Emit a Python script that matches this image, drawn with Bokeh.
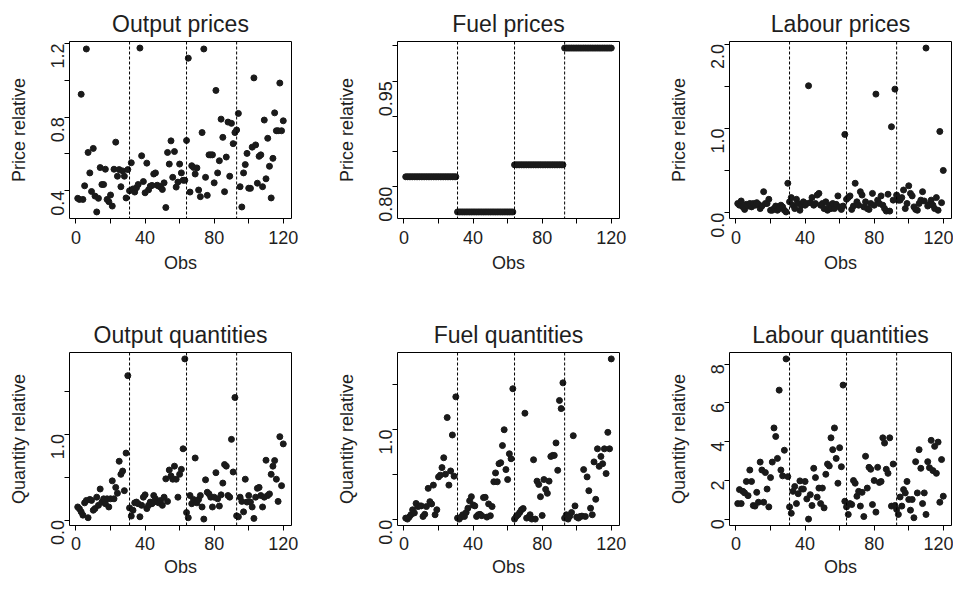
import math
from bokeh.plotting import figure
from bokeh.layouts import gridplot
from bokeh.models import Range1d, FixedTicker, Span
from bokeh.embed import file_html
from bokeh.resources import INLINE

# ---------------- data ----------------
obs = list(range(1, 121))
year_breaks = [31, 64, 93]

x_ticks = [0, 20, 40, 60, 80, 100, 120]
x_tick_labels = ["0", "", "40", "", "80", "", "120"]

output_prices = [
    0.359, 0.353, 0.924, 0.353, 0.427, 1.170, 0.608, 0.497, 0.396, 0.630,
    0.371, 0.285, 0.359, 0.526, 0.434, 0.434, 0.517, 0.353, 0.341, 0.377,
    0.317, 0.517, 0.664, 0.479, 0.515, 0.422, 0.508, 0.479, 0.361, 0.515,
    0.400, 0.552, 0.410, 0.393, 0.416, 0.434, 1.175, 0.590, 0.450, 0.389,
    0.550, 0.405, 0.425, 0.429, 0.491, 0.497, 0.430, 0.425, 0.420, 0.407,
    0.443, 0.309, 0.608, 0.545, 0.671, 0.473, 0.613, 0.420, 0.447, 0.545,
    0.497, 0.457, 0.457, 0.673, 1.120, 0.393, 0.536, 0.527, 0.491, 0.524,
    0.404, 0.368, 0.716, 1.170, 0.473, 0.375, 0.595, 0.595, 0.595, 0.443,
    0.945, 0.497, 0.563, 0.789, 0.690, 0.395, 0.583, 0.773, 0.479, 0.766,
    0.656, 0.716, 0.730, 0.820, 0.422, 0.312, 0.497, 0.542, 0.603, 0.414,
    0.413, 0.637, 1.013, 0.649, 0.441, 0.587, 0.595, 0.422, 0.784, 0.465,
    0.685, 0.533, 0.361, 0.576, 0.823, 0.726, 0.726, 0.985, 0.726, 0.780,
]
output_price_ticks = [0.4, 0.6, 0.8, 1.0, 1.2]
output_price_labels = ["0.4", "", "0.8", "", "1.2"]

fuel_prices = [
    0.814, 0.814, 0.814, 0.814, 0.814, 0.814, 0.814, 0.814, 0.814, 0.814,
    0.814, 0.814, 0.814, 0.814, 0.814, 0.814, 0.814, 0.814, 0.814, 0.814,
    0.814, 0.814, 0.814, 0.814, 0.814, 0.814, 0.814, 0.814, 0.814, 0.814,
    0.764, 0.764, 0.764, 0.764, 0.764, 0.764, 0.764, 0.764, 0.764, 0.764,
    0.764, 0.764, 0.764, 0.764, 0.764, 0.764, 0.764, 0.764, 0.764, 0.764,
    0.764, 0.764, 0.764, 0.764, 0.764, 0.764, 0.764, 0.764, 0.764, 0.764,
    0.764, 0.764, 0.764, 0.831, 0.831, 0.831, 0.831, 0.831, 0.831, 0.831,
    0.831, 0.831, 0.831, 0.831, 0.831, 0.831, 0.831, 0.831, 0.831, 0.831,
    0.831, 0.831, 0.831, 0.831, 0.831, 0.831, 0.831, 0.831, 0.831, 0.831,
    0.831, 0.831, 0.997, 0.997, 0.997, 0.997, 0.997, 0.997, 0.997, 0.997,
    0.997, 0.997, 0.997, 0.997, 0.997, 0.997, 0.997, 0.997, 0.997, 0.997,
    0.997, 0.997, 0.997, 0.997, 0.997, 0.997, 0.997, 0.997, 0.997, 0.997,
]
fuel_price_ticks = [0.80, 0.85, 0.90, 0.95, 1.00]
fuel_price_labels = ["0.80", "", "", "0.95", ""]

labour_prices = [
    0.11, 0.09, 0.14, 0.07, 0.04, 0.10, 0.08, 0.11, 0.07, 0.11,
    0.09, 0.12, 0.10, 0.05, 0.08, 0.25, 0.11, 0.11, 0.16, 0.03,
    0.03, 0.05, 0.08, 0.03, 0.05, 0.09, 0.07, 0.03, 0.01, 0.35,
    0.13, 0.18, 0.09, 0.05, 0.16, 0.11, 0.03, 0.09, 0.13, 0.09,
    0.11, 1.506, 0.12, 0.18, 0.09, 0.11, 0.21, 0.23, 0.09, 0.11,
    0.05, 0.13, 0.03, 0.09, 0.05, 0.11, 0.05, 0.10, 0.20, 0.07,
    0.04, 0.08, 0.929, 0.16, 0.18, 0.20, 0.04, 0.08, 0.35, 0.13,
    0.09, 0.25, 0.21, 0.07, 0.13, 0.05, 0.04, 0.11, 0.23, 0.09,
    1.407, 0.15, 0.11, 0.20, 0.09, 0.05, 0.02, 0.22, 0.02, 1.02,
    0.15, 1.466, 0.21, 0.15, 0.15, 0.18, 0.27, 0.05, 0.11, 0.32,
    0.23, 0.20, 0.07, 0.04, 0.03, 0.11, 0.15, 0.25, 0.14, 1.953,
    0.08, 0.10, 0.15, 0.09, 0.05, 0.18, 0.03, 0.964, 0.12, 0.502,
]
labour_price_ticks = [0.0, 0.5, 1.0, 1.5, 2.0]
labour_price_labels = ["0.0", "", "1.0", "", "2.0"]

output_quantities = [
    0.152, 0.130, 0.095, 0.057, 0.200, 0.228, 0.027, 0.240, 0.228, 0.114,
    0.133, 0.266, 0.171, 0.361, 0.209, 0.247, 0.190, 0.247, 0.152, 0.247,
    0.456, 0.247, 0.380, 0.312, 0.684, 0.532, 0.570, 0.342, 0.779, 1.680,
    0.141, 0.046, 0.114, 0.200, 0.209, 0.190, 0.038, 0.171, 0.266, 0.293,
    0.133, 0.171, 0.209, 0.190, 0.285, 0.247, 0.209, 0.200, 0.228, 0.171,
    0.266, 0.479, 0.217, 0.582, 0.513, 0.475, 0.627, 0.475, 0.266, 0.532,
    0.590, 0.829, 1.875, 0.087, 0.027, 0.285, 0.190, 0.240, 0.722, 0.200,
    0.240, 0.285, 0.152, 0.011, 0.468, 0.323, 0.304, 0.266, 0.152, 0.266,
    0.551, 0.247, 0.163, 0.293, 0.430, 0.646, 0.627, 0.285, 0.266, 0.939,
    0.559, 1.426, 0.049, 0.038, 0.266, 0.217, 0.095, 0.475, 0.209, 0.285,
    0.209, 0.152, 0.019, 0.266, 0.369, 0.380, 0.285, 0.152, 0.266, 0.696,
    0.285, 0.304, 0.532, 0.627, 0.692, 0.475, 0.217, 0.970, 0.400, 0.886,
]
quantity_ticks = [0.0, 0.5, 1.0, 1.5]
quantity_labels = ["0.0", "", "1.0", ""]

fuel_quantities = [
    0.018, 0.007, 0.029, 0.055, 0.110, 0.075, 0.180, 0.146, 0.153, 0.153,
    0.036, 0.060, 0.146, 0.347, 0.200, 0.175, 0.383, 0.055, 0.110, 0.474,
    0.493, 0.577, 0.686, 0.504, 1.131, 0.383, 0.540, 0.938, 0.482, 1.360,
    0.018, 0.007, 0.029, 0.055, 0.036, 0.080, 0.128, 0.210, 0.255, 0.164,
    0.153, 0.036, 0.055, 0.060, 0.045, 0.245, 0.248, 0.029, 0.175, 0.044,
    0.146, 0.420, 0.518, 0.420, 0.620, 0.631, 0.821, 0.996, 0.555, 0.445,
    0.730, 0.675, 1.450, 0.007, 0.036, 0.055, 0.080, 0.110, 0.124, 1.179,
    0.018, 0.026, 0.055, 0.007, 0.664, 0.007, 0.427, 0.390, 0.255, 0.047,
    0.445, 0.336, 0.292, 0.427, 0.700, 0.712, 0.712, 0.850, 0.547, 1.320,
    1.230, 1.515, 0.018, 0.055, 0.007, 0.040, 0.080, 0.930, 0.153, 0.029,
    0.018, 0.036, 0.040, 0.555, 0.036, 0.474, 0.321, 0.128, 0.055, 0.640,
    0.226, 0.785, 0.591, 0.700, 0.620, 0.785, 0.511, 0.967, 0.785, 1.780,
]

labour_quantities = [
    0.81, 1.53, 0.81, 1.44, 1.36, 1.95, 1.22, 2.54, 1.95, 0.71,
    0.68, 1.39, 0.88, 2.95, 2.54, 0.88, 2.41, 1.56, 0.64, 2.15,
    2.95, 4.71, 4.27, 3.14, 6.66, 2.54, 2.24, 3.56, 8.27, 2.20,
    0.64, 0.31, 1.44, 1.69, 0.81, 1.32, 1.98, 1.56, 1.56, 1.95,
    1.05, 0.01, 1.27, 0.71, 2.63, 2.15, 1.14, 1.61, 0.81, 1.61,
    0.59, 2.32, 2.85, 2.75, 4.20, 3.59, 4.71, 3.14, 1.86, 3.69,
    2.71, 6.92, 0.93, 0.64, 0.25, 0.81, 0.76, 2.00, 1.86, 1.19,
    1.44, 0.68, 1.39, 0.14, 3.25, 1.61, 2.68, 2.58, 0.76, 2.00,
    0.37, 2.68, 1.90, 1.95, 4.20, 3.93, 2.58, 2.37, 4.20, 0.68,
    2.85, 0.71, 0.51, 0.25, 1.15, 0.68, 1.53, 1.36, 1.95, 1.02,
    0.47, 1.02, 0.08, 2.97, 1.36, 3.59, 2.63, 0.81, 1.36, 0.25,
    2.97, 2.66, 4.07, 2.51, 3.76, 2.37, 3.98, 0.88, 3.08, 1.19,
]
labour_quantity_ticks = [0, 2, 4, 6, 8]
labour_quantity_labels = ["0", "2", "4", "6", "8"]

titles = ["Output prices", "Fuel prices", "Labour prices",
          "Output quantities", "Fuel quantities", "Labour quantities"]

# ---------------- style ----------------
FONT = "Liberation Sans"
INK = "#1e1e1e"
DOT = "#1a1a1a"


def pad_range(vals):
    lo, hi = min(vals), max(vals)
    pad = 0.04 * (hi - lo)
    return lo - pad, hi + pad


def make_panel(title, y, ylabel, yticks, ylabels, bl, br, bt, bb, fh, xstand):
    xlo, xhi = pad_range(obs)
    ylo, yhi = pad_range(y)
    p = figure(frame_width=222, frame_height=fh,
               min_border_left=bl, min_border_right=br,
               min_border_top=bt, min_border_bottom=bb,
               x_range=Range1d(xlo, xhi), y_range=Range1d(ylo, yhi),
               output_backend="svg", toolbar_location=None, title=title)
    p.title.text_font = FONT
    p.title.text_font_size = "23px"
    p.title.text_font_style = "normal"
    p.title.text_color = INK
    p.title.align = "center"
    p.title.standoff = 10

    p.xgrid.visible = False
    p.ygrid.visible = False
    p.outline_line_color = "black"
    p.outline_line_width = 1
    p.outline_line_alpha = 1.0
    p.background_fill_color = "white"
    p.border_fill_color = "white"

    for ax, ticks, labels, lbl in ((p.xaxis[0], x_ticks, x_tick_labels, "Obs"),
                                   (p.yaxis[0], yticks, ylabels, ylabel)):
        ax.ticker = FixedTicker(ticks=ticks)
        ax.major_label_overrides = {t: s for t, s in zip(ticks, labels)}
        ax.bounds = (ticks[0], ticks[-1])
        ax.axis_label = lbl
        ax.axis_label_text_font = FONT
        ax.axis_label_text_font_size = "18px"
        ax.axis_label_text_font_style = "normal"
        ax.axis_label_text_color = INK
        ax.major_label_text_font = FONT
        ax.major_label_text_font_size = "18px"
        ax.major_label_text_color = INK
        ax.axis_line_color = "black"
        ax.major_tick_line_color = "black"
        ax.minor_tick_line_color = None
        ax.major_tick_out = 5
        ax.major_tick_in = 0
    p.xaxis[0].major_label_standoff = xstand[0]
    p.xaxis[0].axis_label_standoff = xstand[1]
    p.yaxis[0].major_label_standoff = 7
    p.yaxis[0].axis_label_standoff = 13
    p.yaxis[0].major_label_orientation = math.pi / 2

    for b in year_breaks:
        p.add_layout(Span(location=b, dimension="height", line_color="black",
                          line_dash="3 2", line_width=1))
    p.scatter(obs, y, size=6, color=DOT, line_color=DOT)
    return p


col_borders = [(69, 37), (69, 41), (69, 2)]
row_borders = [(41, 74, 177, (7, 6)), (60, 58, 173, (6, 4))]

series = [
    (output_prices, "Price relative", output_price_ticks, output_price_labels),
    (fuel_prices, "Price relative", fuel_price_ticks, fuel_price_labels),
    (labour_prices, "Price relative", labour_price_ticks, labour_price_labels),
    (output_quantities, "Quantity relative", quantity_ticks, quantity_labels),
    (fuel_quantities, "Quantity relative", quantity_ticks, quantity_labels),
    (labour_quantities, "Quantity relative", labour_quantity_ticks, labour_quantity_labels),
]

rows = []
for r in range(2):
    row = []
    for c in range(3):
        k = r * 3 + c
        y, yl, yt, ytl = series[k]
        bl, br = col_borders[c]
        bt, bb, fh, xs = row_borders[r]
        row.append(make_panel(titles[k], y, yl, yt, ytl, bl, br, bt, bb, fh, xs))
    rows.append(row)

grid = gridplot(rows, toolbar_location=None)

open("out.html", "w").write(file_html(grid, INLINE))
